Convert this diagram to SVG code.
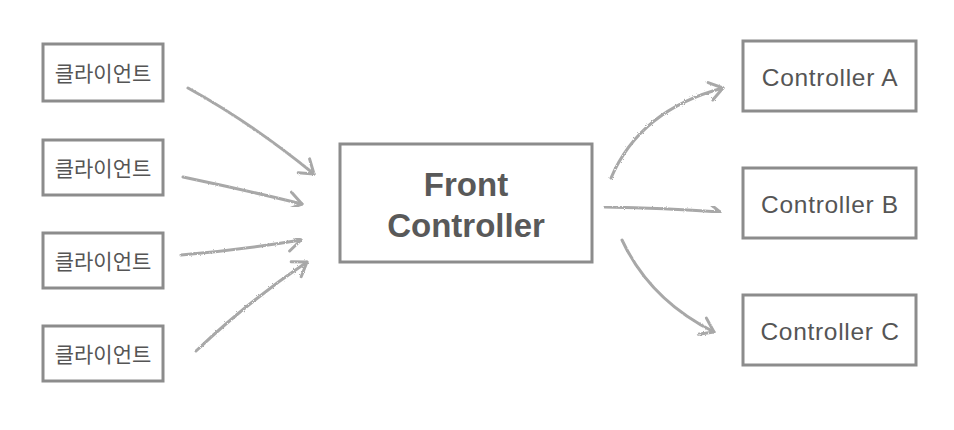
<svg xmlns="http://www.w3.org/2000/svg" width="954" height="430" viewBox="0 0 954 430">
<style>
.box{fill:#fff;stroke:#8c8c8c;stroke-width:3}
.ko{font-family:"Liberation Sans","Noto Sans CJK KR",sans-serif;font-size:21px;fill:#555;text-anchor:middle}
.ctl{font-family:"Liberation Sans",Arial,sans-serif;font-size:24.5px;letter-spacing:0.7px;fill:#555;text-anchor:middle}
.fc{font-family:"Liberation Sans",Arial,sans-serif;font-size:33px;font-weight:bold;fill:#595959;text-anchor:middle}
.arr{fill:none;stroke:#a8a8a8;stroke-width:3;stroke-linecap:round;stroke-linejoin:round;marker-end:url(#head);filter:url(#pencil)}
</style>
<defs>
<filter id="pencil" x="-10%" y="-10%" width="120%" height="120%">
<feTurbulence type="fractalNoise" baseFrequency="0.9" numOctaves="2" result="n"/>
<feDisplacementMap in="SourceGraphic" in2="n" scale="2.5"/>
</filter>
<marker id="head" markerUnits="userSpaceOnUse" markerWidth="24" markerHeight="24" refX="15" refY="10" orient="auto" viewBox="0 0 24 20">
<path d="M2,1 L15,10 L2,19" fill="none" stroke="#a8a8a8" stroke-width="3" stroke-linecap="round" stroke-linejoin="round"/>
</marker>
</defs>
<rect width="954" height="430" fill="#fff"/>
<g id="client1"><rect class="box" x="43" y="44" width="120" height="57"/><text class="ko" x="103" y="81">클라이언트</text></g>
<g id="client2"><rect class="box" x="43" y="140" width="120" height="55"/><text class="ko" x="103" y="176">클라이언트</text></g>
<g id="client3"><rect class="box" x="43" y="233" width="120" height="55"/><text class="ko" x="103" y="269">클라이언트</text></g>
<g id="client4"><rect class="box" x="43" y="326" width="120" height="55"/><text class="ko" x="103" y="362">클라이언트</text></g>
<g id="front"><rect class="box" x="340" y="144" width="252" height="118"/><text class="fc" x="466" y="196">Front</text><text class="fc" x="466" y="237">Controller</text></g>
<g id="ctlA"><rect class="box" x="743" y="41" width="173" height="70"/><text class="ctl" x="830" y="86">Controller A</text></g>
<g id="ctlB"><rect class="box" x="743" y="168" width="173" height="70"/><text class="ctl" x="830" y="213">Controller B</text></g>
<g id="ctlC"><rect class="box" x="743" y="295" width="173" height="70"/><text class="ctl" x="830" y="340">Controller C</text></g>
<g id="connectors">
<path class="arr" d="M188,88 Q250,122 314,174"/>
<path class="arr" d="M183,177 Q245,190 302,204"/>
<path class="arr" d="M181,255 Q240,250 301,240"/>
<path class="arr" d="M196,351 Q250,300 307,262"/>
<path class="arr" d="M611,178 Q640,110 723,88"/>
<path class="arr" d="M605,207 Q665,208 720,212"/>
<path class="arr" d="M622,240 Q650,300 714,332"/>
</g>
</svg>
